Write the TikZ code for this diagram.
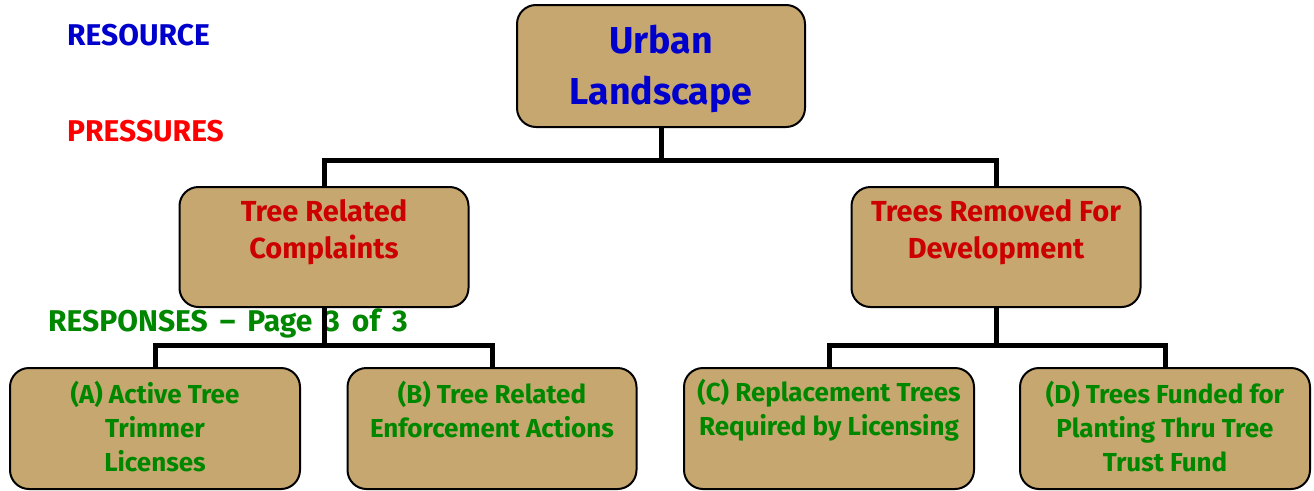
\documentclass[tikz,border=0pt]{standalone}
\usepackage{fontspec}
\setmainfont{Fira Sans}
\usetikzlibrary{backgrounds}
\definecolor{tan}{RGB}{199,167,112}
\definecolor{tblue}{RGB}{0,0,204}
\definecolor{tred}{RGB}{204,0,0}
\definecolor{pred}{RGB}{255,0,0}
\definecolor{tgreen}{RGB}{0,135,0}
\tikzset{
  box/.style={draw=black, line width=2pt, fill=tan, rounded corners=19pt, inner sep=0pt},
  conn/.style={draw=black, line width=5pt},
  txt/.style={align=center, inner sep=0pt, font=\bfseries},
  side/.style={txt, anchor=west, font=\bfseries\fs{30}{34}},
  midtxt/.style={txt, text=tred, font=\bfseries\fs{29}{37}},
  lowtxt/.style={txt, text=tgreen, font=\bfseries\fs{26}{34}},
}
\newcommand{\fs}[2]{\fontsize{#1}{#2}\selectfont}
\newcommand{\wsp}{\hspace{12pt}}
\begin{document}
\begin{tikzpicture}[x=1pt,y=-1pt]
\useasboundingbox (0,0) rectangle (1314,490);
% side labels
\node[side, text=tblue] (lres) at (67,35) {RESOURCE};
\node[side, text=pred] (lpre) at (67,131) {PRESSURES};
% boxes
\node[box, minimum width=288pt, minimum height=122pt] (top) at (661,66) {};
\node[box, minimum width=289pt, minimum height=120pt] (trc) at (324,247) {};
\node[box, minimum width=289pt, minimum height=120pt] (trd) at (996,247) {};
\node[box, minimum width=290pt, minimum height=121pt] (a) at (155,428.5) {};
\node[box, minimum width=289pt, minimum height=121pt] (b) at (492,428.5) {};
\node[box, minimum width=290pt, minimum height=121pt] (c) at (829,428.5) {};
\node[box, minimum width=290pt, minimum height=121pt] (d) at (1165,428.5) {};
% junction coordinates
\coordinate (j1) at (661,160);
\coordinate (j2) at (324,345);
\coordinate (j3) at (996,345);
% connectors
\begin{scope}[on background layer]
\node[side, text=tgreen] (lresp) at (48,323) {RESPONSES\wsp--\wsp Page\wsp 3\wsp of\wsp 3};
\path[conn] (top.south) -- (j1);
\path[conn] (j1) -| (trc.north);
\path[conn] (j1) -| (trd.north);
\path[conn] (trc.south) -- (j2);
\path[conn] (j2) -| (a.north);
\path[conn] (j2) -| (b.north);
\path[conn] (trd.south) -- (j3);
\path[conn] (j3) -| (c.north);
\path[conn] (j3) -| (d.north);
\end{scope}
% box texts
\node[txt, text=tblue, font=\bfseries\fs{37.5}{51}] (ttop) at (661,68.5) {Urban\\Landscape};
\node[midtxt] (ttrc) at (324,232.5) {Tree Related\\Complaints};
\node[midtxt] (ttrd) at (996,232.5) {Trees Removed For\\Development};
\node[lowtxt] (ta) at (155,427) {(A) Active Tree\\Trimmer\\Licenses};
\node[lowtxt] (tb) at (492,410) {(B) Tree Related\\Enforcement Actions};
\node[lowtxt] (tc) at (829,410) {(C) Replacement Trees\\Required by Licensing};
\node[lowtxt] (td) at (1165,427) {(D) Trees Funded for\\Planting Thru Tree\\Trust Fund};
\end{tikzpicture}
\end{document}
